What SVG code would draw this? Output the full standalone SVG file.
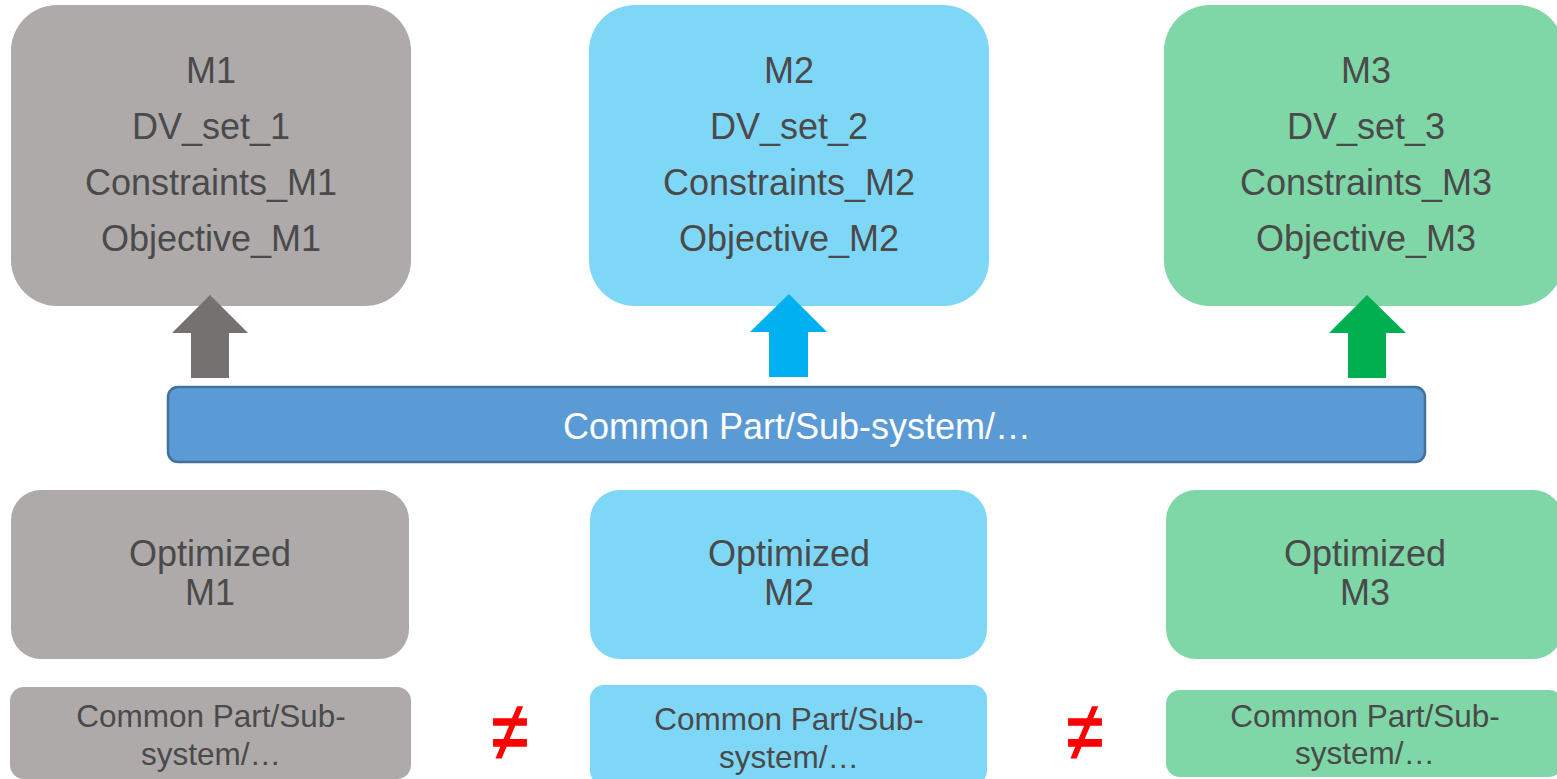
<svg xmlns="http://www.w3.org/2000/svg" width="1557" height="779" viewBox="0 0 1557 779">
<style>
text{font-family:"Liberation Sans",Arial,sans-serif;text-anchor:middle;fill:#4a4a4a}
.big{font-size:36px}
.small{font-size:31.5px}
.gray{fill:#AEAAAA}
.blue{fill:#7FD7F7}
.green{fill:#7FD6A6}
.bar{fill:#5B9BD5;stroke:#41719C;stroke-width:2.5}
.bartext{fill:#ffffff;font-size:36px}
.neq{fill:#FF0000;stroke:#FF0000;stroke-width:1.2;font-size:62px;font-family:"Liberation Sans","DejaVu Sans",sans-serif}
</style>
<g id="m1">
<rect class="gray" x="11" y="5" width="400" height="301" rx="46"/>
<text class="big" x="211" y="83">M1</text>
<text class="big" x="211" y="139">DV_set_1</text>
<text class="big" x="211" y="195">Constraints_M1</text>
<text class="big" x="211" y="251">Objective_M1</text>
</g>
<g id="m2">
<rect class="blue" x="589" y="5" width="400" height="301" rx="46"/>
<text class="big" x="789" y="83">M2</text>
<text class="big" x="789" y="139">DV_set_2</text>
<text class="big" x="789" y="195">Constraints_M2</text>
<text class="big" x="789" y="251">Objective_M2</text>
</g>
<g id="m3">
<rect class="green" x="1164" y="5" width="400" height="301" rx="46"/>
<text class="big" x="1366" y="83">M3</text>
<text class="big" x="1366" y="139">DV_set_3</text>
<text class="big" x="1366" y="195">Constraints_M3</text>
<text class="big" x="1366" y="251">Objective_M3</text>
</g>
<g id="connectors">
<polygon fill="#767171" points="210,295 248,333 229,333 229,378 191,378 191,333 172,333"/>
<polygon fill="#00B0F0" points="789,294 827,332 808,332 808,377 769,377 769,332 750,332"/>
<polygon fill="#00B050" points="1367,295 1406,333 1386,333 1386,378 1348,378 1348,333 1329,333"/>
</g>
<g id="common">
<rect class="bar" x="168" y="387" width="1257" height="75" rx="10"/>
<text class="bartext" x="797" y="439">Common Part/Sub-system/…</text>
</g>
<g id="opt1">
<rect class="gray" x="11" y="490" width="398" height="169" rx="30"/>
<text class="big" x="210" y="566">Optimized</text>
<text class="big" x="210" y="605">M1</text>
</g>
<g id="opt2">
<rect class="blue" x="590" y="490" width="397" height="169" rx="30"/>
<text class="big" x="789" y="566">Optimized</text>
<text class="big" x="789" y="605">M2</text>
</g>
<g id="opt3">
<rect class="green" x="1166" y="490" width="397" height="169" rx="30"/>
<text class="big" x="1365" y="566">Optimized</text>
<text class="big" x="1365" y="605">M3</text>
</g>
<g id="part1">
<rect class="gray" x="10" y="687" width="401" height="92" rx="14"/>
<text class="small" x="211" y="727">Common Part/Sub-</text>
<text class="small" x="211" y="765">system/…</text>
</g>
<g id="part2">
<rect class="blue" x="590" y="685" width="397" height="100" rx="14"/>
<text class="small" x="789" y="730">Common Part/Sub-</text>
<text class="small" x="789" y="768">system/…</text>
</g>
<g id="part3">
<rect class="green" x="1166" y="690" width="397" height="87" rx="14"/>
<text class="small" x="1365" y="727">Common Part/Sub-</text>
<text class="small" x="1365" y="764">system/…</text>
</g>
<g id="neq">
<text class="neq" transform="translate(510,760) scale(1.08,1.35)">≠</text>
<text class="neq" transform="translate(1085,760) scale(1.08,1.35)">≠</text>
</g>
</svg>
